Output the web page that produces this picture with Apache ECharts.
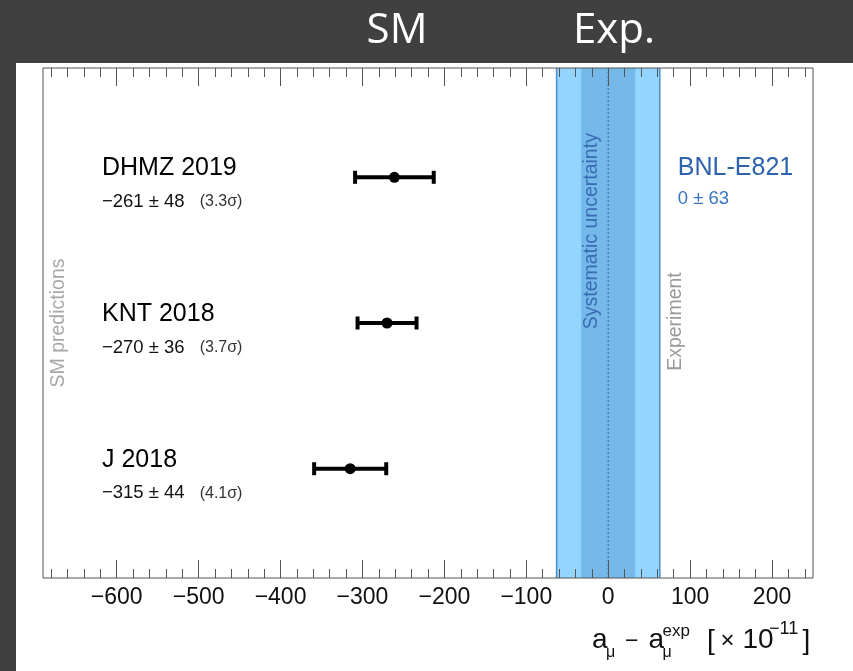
<!DOCTYPE html>
<html>
<head>
<meta charset="utf-8">
<script src="https://cdn.jsdelivr.net/npm/echarts@6/dist/echarts.min.js"></script>
<style>
  html, body { margin: 0; padding: 0; background: #404040; }
  #wrap { position: relative; width: 853px; height: 671px; background: #404040; overflow: hidden; }
  #paper { position: absolute; left: 16px; top: 63px; right: 0; bottom: 0; background: #ffffff; }
  #chart { position: absolute; left: 0; top: 0; width: 853px; height: 671px; }
</style>
</head>
<body>
<div id="wrap"><div id="paper"></div><div id="chart"></div></div>
<script>
// ---------------- data ----------------
const categories = ['DHMZ 2019', 'KNT 2018', 'J 2018'];
const centralValues = [-261, -270, -315];
const uncertainties = [48, 36, 44];
const significances = ['3.3σ', '3.7σ', '4.1σ'];
const rowPositions = [3, 2, 1];

const experimentName = 'BNL-E821';
const experimentValue = 0;
const experimentTotalUnc = 63;
const experimentSystUnc = 33;

const majorTickValues = [-600, -500, -400, -300, -200, -100, 0, 100, 200];
const headerLabels = ['SM', 'Exp.'];

// ---------------- layout constants ----------------
const X_MIN = -690, X_MAX = 250;
const Y_MIN = 0.25, Y_MAX = 3.75;
const LABEL_X = -618;
const FONT = '"Liberation Sans", Arial, sans-serif';

const minorTickValues = [];
for (let v = -680; v <= 240; v += 20) minorTickValues.push(v);

function fmtNum(v) { return v < 0 ? '\u2212' + Math.abs(v) : String(v); }

const chart = echarts.init(document.getElementById('chart'), null, { renderer: 'canvas' });

function makeXAxis(position, ticks, len, showLabels) {
  return {
    type: 'value', position: position, min: X_MIN, max: X_MAX, z: 10,
    axisLine: { show: false, onZero: false },
    splitLine: { show: false },
    axisTick: { show: true, inside: true, length: len, customValues: ticks,
      lineStyle: { color: '#555', width: 1 } },
    axisLabel: showLabels ? {
      show: true, customValues: majorTickValues, formatter: fmtNum,
      color: '#111', fontSize: 23, fontFamily: FONT, margin: 8
    } : { show: false }
  };
}

const pointData = rowPositions.map((r, i) => [centralValues[i], uncertainties[i], r]);

const option = {
  animation: false,
  backgroundColor: 'transparent',
  grid: { left: 43, right: 40, top: 68, bottom: 93, show: true, z: 10,
    borderColor: '#555', borderWidth: 1, backgroundColor: 'transparent' },
  xAxis: [
    makeXAxis('bottom', majorTickValues, 18, true),
    makeXAxis('bottom', minorTickValues, 9, false),
    makeXAxis('top', majorTickValues, 18, false),
    makeXAxis('top', minorTickValues, 9, false)
  ],
  yAxis: { type: 'value', min: Y_MIN, max: Y_MAX, show: false },
  series: [
    {
      type: 'custom', name: 'experiment', z: 1,
      data: [[experimentValue, experimentTotalUnc, experimentSystUnc]],
      encode: { x: 0, y: 1 },
      renderItem: function (params, api) {
        const c = api.value(0), tot = api.value(1), sys = api.value(2);
        const cs = params.coordSys;
        const xl = api.coord([c - tot, 2])[0], xr = api.coord([c + tot, 2])[0];
        const sl = api.coord([c - sys, 2])[0], sr = api.coord([c + sys, 2])[0];
        const xc = api.coord([c, 2])[0];
        const pTop = api.coord([85, 3]);
        const sysPos = api.coord([-20, 2.63]);
        const expPos = api.coord([82.5, 2.01]);
        const smPos = api.coord([-670.5, 2.0]);
        return { type: 'group', children: [
          { type: 'rect', shape: { x: xl, y: cs.y, width: xr - xl, height: cs.height }, style: { fill: '#93d5fe' } },
          { type: 'rect', shape: { x: sl, y: cs.y, width: sr - sl, height: cs.height }, style: { fill: '#74b9ea' } },
          { type: 'line', shape: { x1: xl, y1: cs.y, x2: xl, y2: cs.y + cs.height }, style: { stroke: '#4d8dcf', lineWidth: 1.5 } },
          { type: 'line', shape: { x1: xr, y1: cs.y, x2: xr, y2: cs.y + cs.height }, style: { stroke: '#4d8dcf', lineWidth: 1.5 } },
          { type: 'line', shape: { x1: xc, y1: cs.y, x2: xc, y2: cs.y + cs.height }, style: { stroke: '#3a6cb8', lineWidth: 1, lineDash: [2, 2] } },
          { type: 'text', x: pTop[0], y: pTop[1] - 9.5, style: { text: experimentName, fill: '#2c62ae', fontSize: 25, fontFamily: FONT, align: 'left', verticalAlign: 'middle' } },
          { type: 'text', x: pTop[0], y: pTop[1] + 22, style: { text: fmtNum(c) + ' \u00b1 ' + tot, fill: '#3a74c2', fontSize: 18.5, fontFamily: FONT, align: 'left', verticalAlign: 'middle' } },
          { type: 'text', x: sysPos[0], y: sysPos[1], rotation: Math.PI / 2, style: { text: 'Systematic uncertainty', fill: '#3a6cb4', fontSize: 19.5, fontFamily: FONT, align: 'center', verticalAlign: 'middle' } },
          { type: 'text', x: expPos[0], y: expPos[1], rotation: Math.PI / 2, style: { text: 'Experiment', fill: '#9a9a9a', fontSize: 19.5, fontFamily: FONT, align: 'center', verticalAlign: 'middle' } },
          { type: 'text', x: smPos[0], y: smPos[1], rotation: Math.PI / 2, style: { text: 'SM predictions', fill: '#a8a8a8', fontSize: 19.5, fontFamily: FONT, align: 'center', verticalAlign: 'middle' } }
        ] };
      }
    },
    {
      type: 'custom', name: 'predictions', z: 3,
      data: pointData,
      encode: { x: 0, y: 2 },
      renderItem: function (params, api) {
        const c = api.value(0), e = api.value(1), r = api.value(2);
        const i = params.dataIndex;
        const p = api.coord([c, r]);
        const pl = api.coord([c - e, r]);
        const pr = api.coord([c + e, r]);
        const lx = api.coord([LABEL_X, r])[0];
        return { type: 'group', children: [
          { type: 'line', shape: { x1: pl[0], y1: p[1], x2: pr[0], y2: p[1] }, style: { stroke: '#000', lineWidth: 4 } },
          { type: 'rect', shape: { x: pl[0] - 2, y: p[1] - 6.5, width: 4, height: 13 }, style: { fill: '#000' } },
          { type: 'rect', shape: { x: pr[0] - 2, y: p[1] - 6.5, width: 4, height: 13 }, style: { fill: '#000' } },
          { type: 'circle', shape: { cx: p[0], cy: p[1], r: 5.5 }, style: { fill: '#000' } },
          { type: 'text', x: lx, y: p[1] - 9, style: { text: categories[i], fill: '#000', fontSize: 25, fontFamily: FONT, align: 'left', verticalAlign: 'middle' } },
          { type: 'text', x: lx, y: p[1] + 24.5, style: {
              text: '{v|' + fmtNum(c) + ' \u00b1 ' + e + '}{s|(' + significances[i] + ')}',
              align: 'left', verticalAlign: 'middle',
              rich: {
                v: { fontSize: 18.5, fontFamily: FONT, fill: '#111' },
                s: { fontSize: 16, fontFamily: FONT, fill: '#333', padding: [0, 0, 0, 15] }
              }
            } }
        ] };
      }
    }
  ],
  graphic: [
    { type: 'text', x: 397, y: 31, style: { text: headerLabels[0], fill: '#fff', fontSize: 42, fontFamily: '"Open Sans", sans-serif', align: 'center', verticalAlign: 'middle' } },
    { type: 'text', x: 614, y: 31, style: { text: headerLabels[1], fill: '#fff', fontSize: 42, fontFamily: '"Open Sans", sans-serif', align: 'center', verticalAlign: 'middle' } },
    { type: 'group', children: [
      { type: 'text', x: 592, y: 640, style: { text: 'a', fill: '#111', fontSize: 28, fontFamily: FONT, verticalAlign: 'middle' } },
      { type: 'text', x: 606, y: 653, style: { text: 'μ', fill: '#111', fontSize: 16, fontFamily: FONT, verticalAlign: 'middle' } },
      { type: 'text', x: 625, y: 642, style: { text: '\u2212', fill: '#111', fontSize: 23, fontFamily: FONT, verticalAlign: 'middle' } },
      { type: 'text', x: 648.5, y: 640, style: { text: 'a', fill: '#111', fontSize: 28, fontFamily: FONT, verticalAlign: 'middle' } },
      { type: 'text', x: 662.5, y: 653, style: { text: 'μ', fill: '#111', fontSize: 16, fontFamily: FONT, verticalAlign: 'middle' } },
      { type: 'text', x: 662.5, y: 631, style: { text: 'exp', fill: '#111', fontSize: 17, fontFamily: FONT, verticalAlign: 'middle' } },
      { type: 'text', x: 707, y: 641, style: { text: '[', fill: '#111', fontSize: 28, fontFamily: FONT, verticalAlign: 'middle' } },
      { type: 'text', x: 720.5, y: 641, style: { text: '\u00d7', fill: '#111', fontSize: 24, fontFamily: FONT, verticalAlign: 'middle' } },
      { type: 'text', x: 742.5, y: 640, style: { text: '10', fill: '#111', fontSize: 28, fontFamily: FONT, verticalAlign: 'middle' } },
      { type: 'text', x: 769, y: 629, style: { text: '\u221211', fill: '#111', fontSize: 18, fontFamily: FONT, verticalAlign: 'middle' } },
      { type: 'text', x: 802.5, y: 641, style: { text: ']', fill: '#111', fontSize: 28, fontFamily: FONT, verticalAlign: 'middle' } }
    ] }
  ]
};

chart.setOption(option);
</script>
</body>
</html>
